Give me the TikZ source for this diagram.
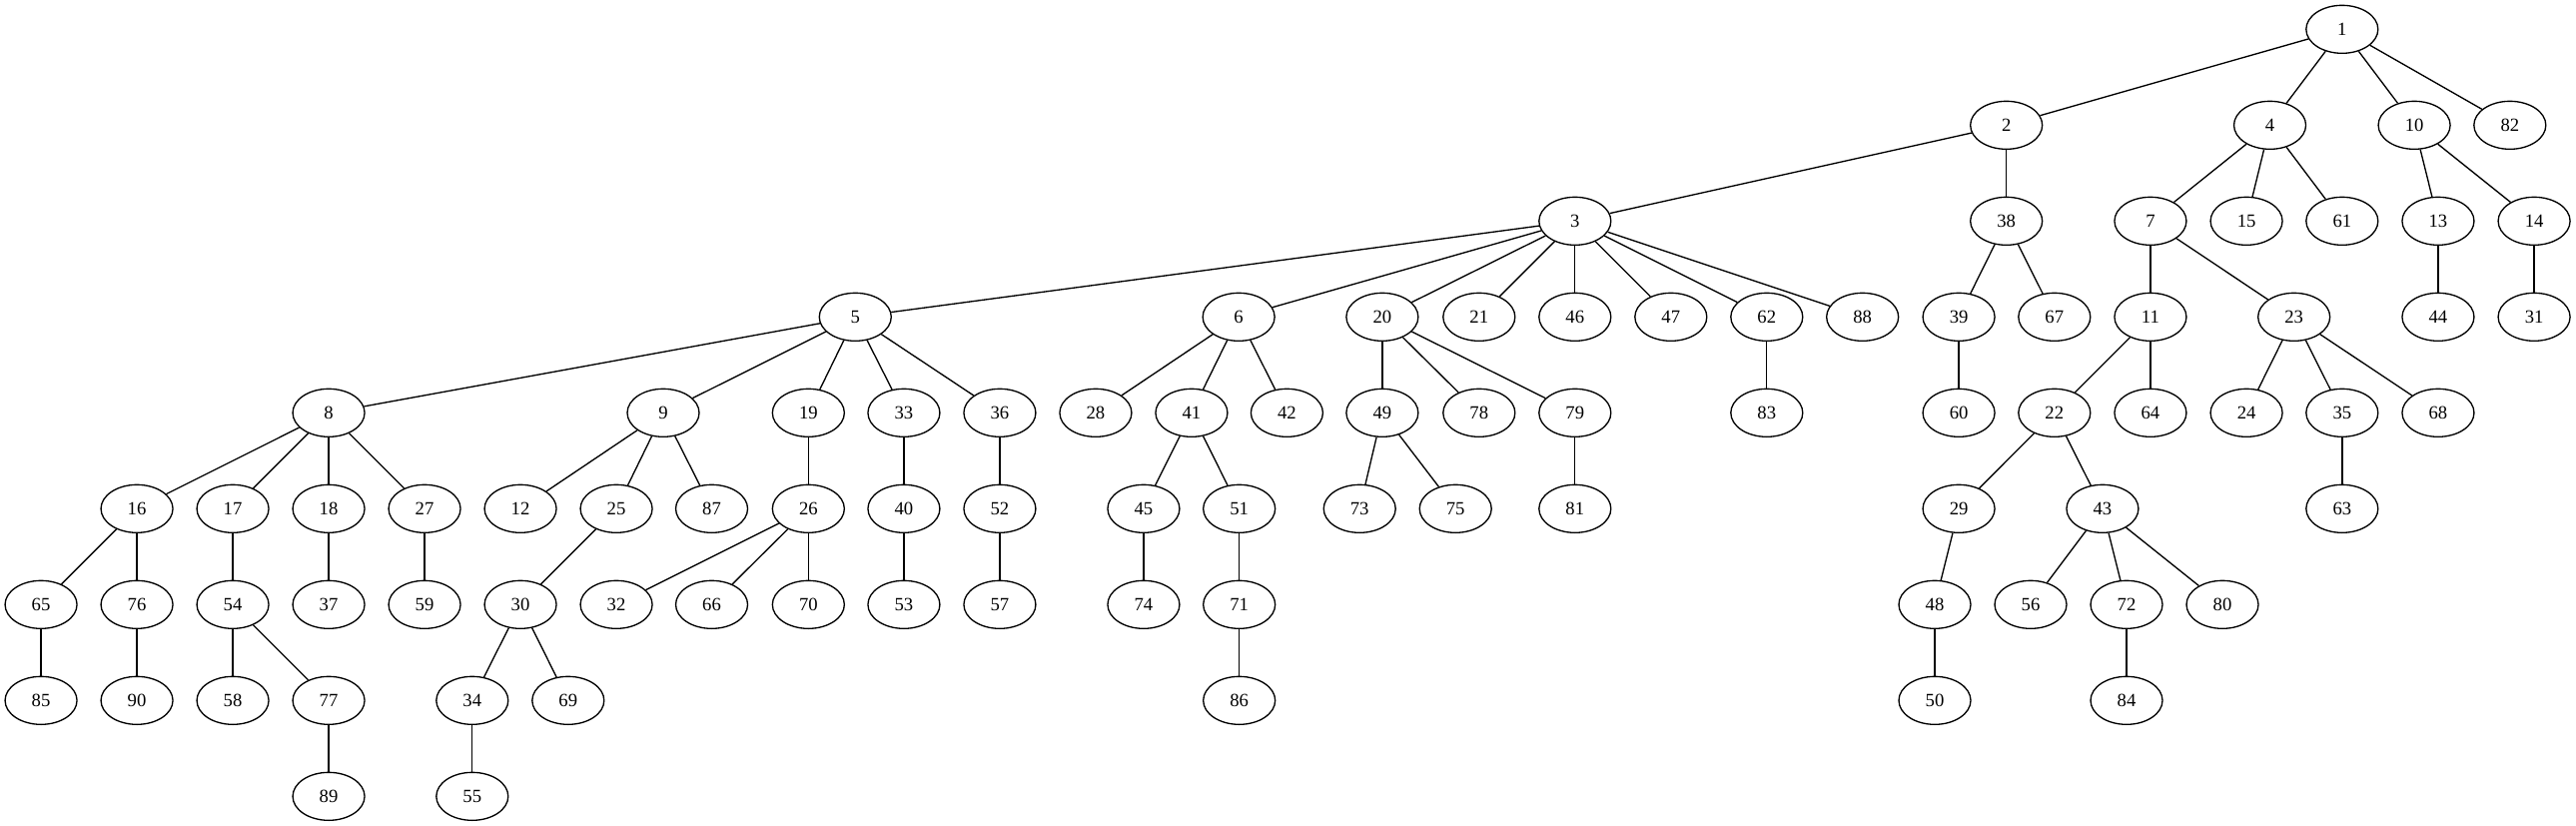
\documentclass[tikz,border=0pt]{standalone}
\usepackage{fontspec}
\setmainfont{Liberation Serif}
\usetikzlibrary{shapes.geometric}
\begin{document}
\begin{tikzpicture}[x=1pt,y=-1pt,
  gv/.style={draw,ellipse,line width=1pt,minimum width=54pt,minimum height=36pt,inner sep=0pt,font=\fontsize{14pt}{16pt}\selectfont},
  edge/.style={line width=1pt}]
\useasboundingbox (0,0) rectangle (1934.25,620.25);
% row 0
\foreach \n/\x in {1/1758.6}
  \node[gv] (n\n) at (\x,22) {\n};
% row 1
\foreach \n/\x in {2/1506.5,4/1704.4,10/1812.8,82/1884.6}
  \node[gv] (n\n) at (\x,94) {\n};
% row 2
\foreach \n/\x in {3/1182.6,38/1506.5,7/1614.7,15/1686.8,61/1758.6,13/1830.7,14/1902.8}
  \node[gv] (n\n) at (\x,166) {\n};
% row 3
\foreach \n/\x in {5/642.2,6/930.1,20/1037.9,21/1110.6,46/1182.6,47/1254.6,62/1326.6,88/1398.5,39/1470.8,67/1542.6,11/1614.7,23/1722.5,44/1830.7,31/1902.8}
  \node[gv] (n\n) at (\x,238) {\n};
% row 4
\foreach \n/\x in {8/246.8,9/498,19/607,33/678.7,36/750.7,28/822.7,41/894.7,42/966.3,49/1037.9,78/1110.6,79/1182.6,83/1326.6,60/1470.8,22/1542.6,64/1614.7,24/1686.8,35/1758.6,68/1830.7}
  \node[gv] (n\n) at (\x,310) {\n};
% row 5
\foreach \n/\x in {16/102.8,17/174.8,18/246.8,27/318.8,12/390.8,25/462.8,87/534.4,26/607,40/678.7,52/750.7,45/858.7,51/930.5,73/1020.9,75/1092.9,81/1182.6,29/1470.8,43/1578.7,63/1758.6}
  \node[gv] (n\n) at (\x,382) {\n};
% row 6
\foreach \n/\x in {65/30.8,76/102.8,54/174.8,37/246.8,59/318.8,30/390.8,32/462.8,66/534.4,70/607,53/678.7,57/750.7,74/858.7,71/930.5,48/1452.75,56/1524.75,72/1596.75,80/1668.75}
  \node[gv] (n\n) at (\x,454) {\n};
% row 7
\foreach \n/\x in {85/30.8,90/102.8,58/174.8,77/246.8,34/354.6,69/426.6,86/930.5,50/1452.75,84/1596.75}
  \node[gv] (n\n) at (\x,526) {\n};
% row 8
\foreach \n/\x in {89/246.8,55/354.6}
  \node[gv] (n\n) at (\x,598) {\n};
% edges
\foreach \a/\b in {1/2,1/4,1/10,1/82,2/3,2/38,4/7,4/15,4/61,10/13,10/14,
  3/5,3/6,3/20,3/21,3/46,3/47,3/62,3/88,38/39,38/67,7/11,7/23,13/44,14/31,
  5/8,5/9,5/19,5/33,5/36,6/28,6/41,6/42,20/49,20/78,20/79,62/83,39/60,
  11/22,11/64,23/24,23/35,23/68,8/16,8/17,8/18,8/27,9/12,9/25,9/87,
  19/26,33/40,36/52,41/45,41/51,49/73,49/75,79/81,22/29,22/43,35/63,
  16/65,16/76,17/54,18/37,27/59,25/30,26/32,26/66,26/70,40/53,52/57,
  45/74,51/71,29/48,43/56,43/72,43/80,30/34,30/69,54/58,54/77,65/85,
  76/90,71/86,48/50,72/84,77/89,34/55}
  \draw[edge] (n\a) -- (n\b);
\end{tikzpicture}
\end{document}
